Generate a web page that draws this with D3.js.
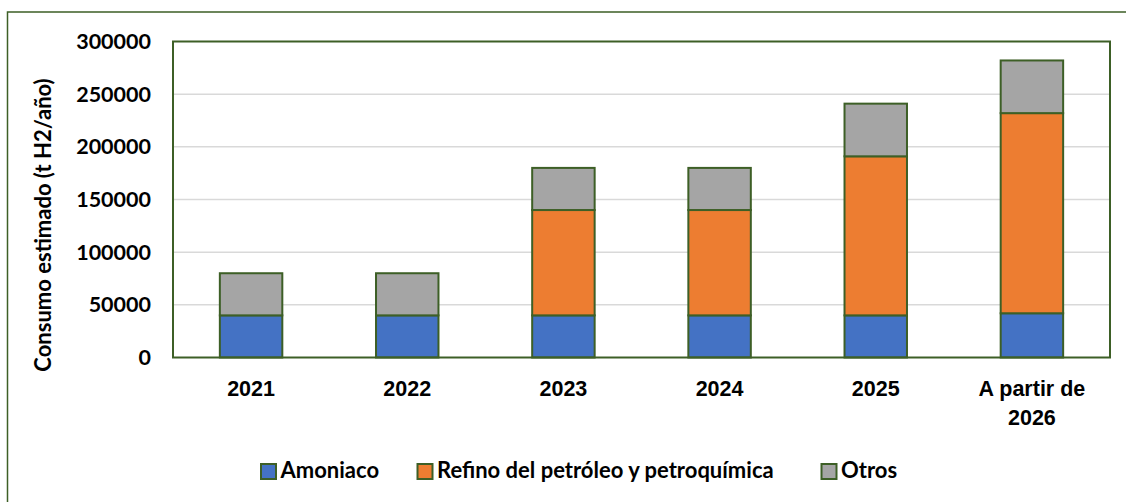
<!DOCTYPE html>
<html>
<head>
<meta charset="utf-8">
<script src="https://cdn.jsdelivr.net/npm/d3@7"></script>
<style>
  body { margin: 0; background: #fff; }
  svg { display: block; font-family: Lato, "Open Sans", sans-serif; font-weight: bold; }
</style>
</head>
<body>
<div class="chart"></div>
<script>
// data
const categories = ['2021', '2022', '2023', '2024', '2025', 'A partir de 2026'];
const amoniaco = [40000, 40000, 40000, 40000, 40000, 42000];
const refino = [0, 0, 100000, 100000, 151000, 190000];
const otros = [40000, 40000, 40000, 40000, 50000, 50000];
const seriesNames = ['Amoniaco', 'Refino del petróleo y petroquímica', 'Otros'];
const yTicks = [0, 50000, 100000, 150000, 200000, 250000, 300000];

const colors = ['#4472c4', '#ed7d31', '#a5a5a5'];
const green = '#3d5f26';

const width = 1126, height = 502;
const margin = {top: 41.5, right: 16, bottom: 144.5, left: 173};

const svg = d3.select('.chart').append('svg')
    .attr('width', width).attr('height', height);

// outer frame (runs past the right/bottom edge like the source)
svg.append('rect')
    .attr('x', 7.5).attr('y', 12)
    .attr('width', width + 20).attr('height', height + 20)
    .attr('fill', 'none').attr('stroke', green).attr('stroke-width', 1.5);

const rows = categories.map((c, i) => ({
    cat: c, Amoniaco: amoniaco[i],
    'Refino del petróleo y petroquímica': refino[i], Otros: otros[i]
}));
const stacked = d3.stack().keys(seriesNames)(rows);

const x = d3.scaleBand().domain(categories)
    .range([margin.left, width - margin.right])
    .paddingInner(0.6).paddingOuter(0.3);
const y = d3.scaleLinear().domain([0, 300000])
    .range([height - margin.bottom, margin.top]);

// gridlines
svg.append('g').selectAll('line')
    .data(yTicks.slice(1, -1)).enter().append('line')
    .attr('x1', margin.left).attr('x2', width - margin.right)
    .attr('y1', d => y(d)).attr('y2', d => y(d))
    .attr('stroke', '#d9d9d9').attr('stroke-width', 1.5);

// bars
svg.append('g').selectAll('g')
    .data(stacked).enter().append('g')
    .attr('fill', (d, i) => colors[i])
    .selectAll('rect')
    .data(d => d.filter(s => s[1] - s[0] > 0)).enter().append('rect')
    .attr('x', d => x(d.data.cat))
    .attr('y', d => y(d[1]))
    .attr('width', x.bandwidth())
    .attr('height', d => y(d[0]) - y(d[1]))
    .attr('stroke', green).attr('stroke-width', 2);

// plot border
svg.append('rect')
    .attr('x', margin.left).attr('y', margin.top)
    .attr('width', width - margin.right - margin.left)
    .attr('height', height - margin.bottom - margin.top)
    .attr('fill', 'none').attr('stroke', green).attr('stroke-width', 2);

// y axis
const yAxis = d3.axisLeft(y).tickValues(yTicks).tickSize(0).tickPadding(22)
    .tickFormat(d3.format('d'));
const yAxisDraw = svg.append('g')
    .attr('transform', `translate(${margin.left},0)`)
    .call(yAxis);
yAxisDraw.select('.domain').remove();
yAxisDraw.selectAll('text')
    .style('font-family', 'Lato, sans-serif').style('font-weight', 'bold')
    .style('font-size', '21.5px').attr('fill', '#000');

// x axis
const xAxis = d3.axisBottom(x).tickSize(0).tickFormat('');
const xAxisDraw = svg.append('g')
    .attr('transform', `translate(0,${height - margin.bottom})`)
    .call(xAxis);
xAxisDraw.select('.domain').remove();
xAxisDraw.selectAll('.tick').append('text')
    .attr('text-anchor', 'middle').attr('fill', '#000')
    .style('font-size', '21.5px')
    .each(function(d) {
        const lines = d === 'A partir de 2026' ? ['A partir de', '2026'] : [d];
        d3.select(this).selectAll('tspan').data(lines).enter().append('tspan')
            .attr('x', 0).attr('y', (l, i) => 38.5 + i * 29)
            .text(l => l);
    });

// y title
svg.append('text')
    .attr('transform', 'translate(51,225) rotate(-90)')
    .attr('text-anchor', 'middle')
    .style('font-size', '22px')
    .text('Consumo estimado (t H2/año)');

// legend
const legendX = [261, 417.5, 821.5];
const legend = svg.append('g').selectAll('g')
    .data(seriesNames).enter().append('g')
    .attr('transform', (d, i) => `translate(${legendX[i]},464)`);
legend.append('rect')
    .attr('width', 15).attr('height', 15)
    .attr('fill', (d, i) => colors[i])
    .attr('stroke', green).attr('stroke-width', 2);
legend.append('text')
    .attr('x', 19.5).attr('y', 13.5)
    .style('font-size', '22px')
    .text(d => d);
</script>
</body>
</html>
